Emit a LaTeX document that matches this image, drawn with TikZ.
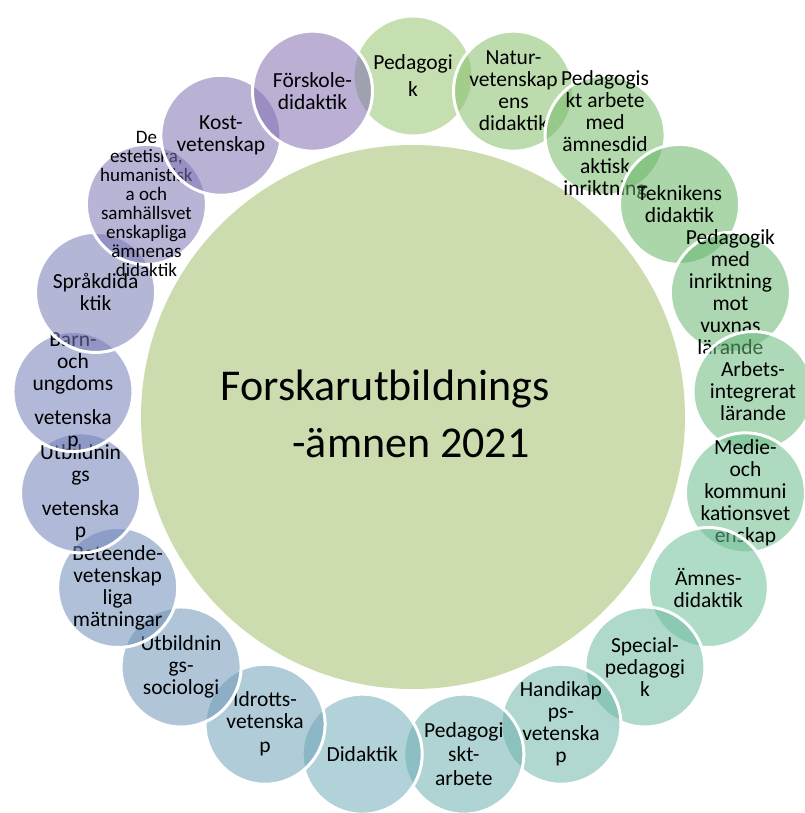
\documentclass[tikz,border=0pt]{standalone}
\usepackage{fontspec}
\setmainfont{Carlito}
\definecolor{cmain}{RGB}{205,220,174}
\definecolor{c0}{RGB}{150,197,111}
\definecolor{c1}{RGB}{134,191,107}
\definecolor{c2}{RGB}{118,186,104}
\definecolor{c3}{RGB}{102,180,100}
\definecolor{c4}{RGB}{104,183,113}
\definecolor{c5}{RGB}{106,186,127}
\definecolor{c6}{RGB}{108,188,140}
\definecolor{c7}{RGB}{110,191,153}
\definecolor{c8}{RGB}{110,186,161}
\definecolor{c9}{RGB}{111,182,169}
\definecolor{c10}{RGB}{111,177,176}
\definecolor{c11}{RGB}{111,173,184}
\definecolor{c12}{RGB}{111,162,184}
\definecolor{c13}{RGB}{111,152,184}
\definecolor{c14}{RGB}{111,141,184}
\definecolor{c15}{RGB}{111,130,184}
\definecolor{c16}{RGB}{115,126,183}
\definecolor{c17}{RGB}{119,122,181}
\definecolor{c18}{RGB}{123,119,180}
\definecolor{c19}{RGB}{127,115,178}
\definecolor{c20}{RGB}{131,111,177}
\tikzset{
  bubble/.style={circle, minimum size=120pt, inner sep=0pt, draw=white, line width=3pt, fill opacity=0.55, draw opacity=1},
  btext/.style={align=center, inner sep=0pt, text=black, font=\fontsize{21.5}{22}\selectfont},
  stext/.style={align=center, inner sep=0pt, text=black, font=\fontsize{19}{19}\selectfont},
  maintext/.style={inner sep=0pt, text=black, font=\fontsize{44}{52}\selectfont, anchor=base}
}
\newcommand\bub[3]{%
  \path (ctr) ++(90-#1*17.142857:341pt) node[bubble, fill=c#1] (b#1) {};
  \node[#2] (t#1) at (b#1) {#3};
}
\begin{document}
\begin{tikzpicture}[x=1pt, y=-1pt]
\useasboundingbox (0,0) rectangle (804,813);
\coordinate (ctr) at (413,417);
\node[circle, minimum size=544pt, inner sep=0pt, fill=cmain] (main) at (ctr) {};
\node[maintext] (m1) at (385,400) {Forskarutbildnings};
\node[maintext] (m2) at (411,457) {-ämnen 2021};
\bub{0}{btext}{Pedagogi\\[5pt]k}
\bub{1}{btext}{Natur-\\vetenskap\\ens\\didaktik}
\bub{2}{btext}{Pedagogis\\kt arbete\\med\\ämnesdid\\aktisk\\inriktning}
\bub{3}{btext}{Teknikens\\didaktik}
\bub{4}{btext}{Pedagogik\\med\\inriktning\\mot\\vuxnas\\lärande}
\bub{5}{btext}{Arbets-\\integrerat\\lärande}
\bub{6}{btext}{Medie-\\och\\kommuni\\kationsvet\\enskap}
\bub{7}{btext}{Ämnes-\\didaktik}
\bub{8}{btext}{Special-\\pedagogi\\k}
\bub{9}{btext}{Handikap\\ps-\\vetenska\\p}
\bub{10}{btext}{Pedagogi\\[2pt]skt-\\[2pt]arbete}
\bub{11}{btext}{Didaktik}
\bub{12}{btext}{Idrotts-\\vetenska\\[2pt]p}
\bub{13}{btext}{Utbildnin\\gs-\\sociologi}
\bub{14}{btext}{Beteende-\\vetenskap\\liga\\mätningar}
\bub{15}{btext}{Utbildnin\\gs\\[12pt]vetenska\\p}
\bub{16}{btext}{Barn-\\och\\ungdoms\\[12pt]vetenska\\p}
\bub{17}{btext}{Språkdida\\ktik}
\bub{18}{stext}{De\\estetiska,\\humanistisk\\a och\\samhällsvet\\enskapliga\\ämnenas\\didaktik}
\bub{19}{btext}{Kost-\\vetenskap}
\bub{20}{btext}{Förskole-\\didaktik}
\end{tikzpicture}
\end{document}
